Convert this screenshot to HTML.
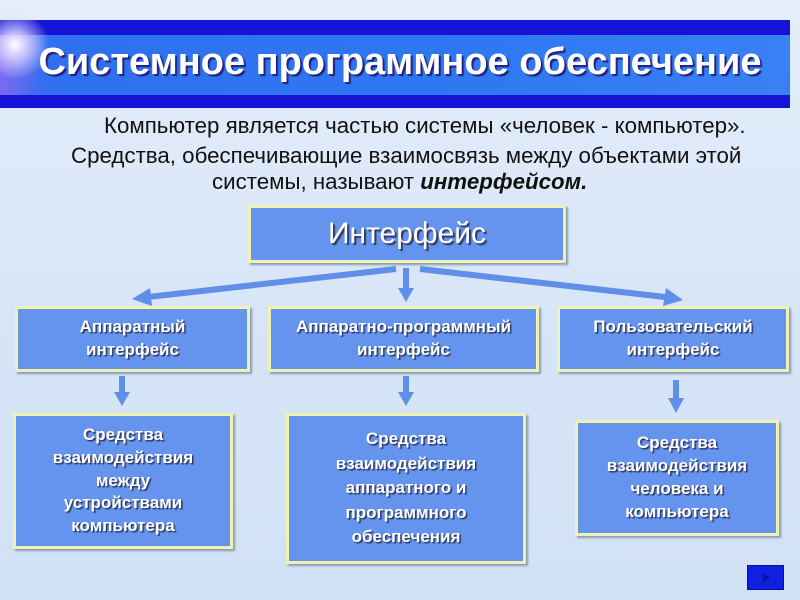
<!DOCTYPE html>
<html><head><meta charset="utf-8"><style>
body{margin:0;width:800px;height:600px;overflow:hidden;background:linear-gradient(180deg,#e4eefa,#d6e4f7 60%,#d2e2f6);font-family:"Liberation Sans",sans-serif;position:relative}
.band{position:absolute;left:0;top:20px;width:790px;height:88px;background:#1414d8}
.band2{position:absolute;left:0;top:35px;width:790px;height:60px;background:linear-gradient(90deg,#7a6af0 0,#2f6ff0 6%,#2f78f2 60%,#3a80f4)}
.glow{position:absolute;left:-20px;top:10px;width:70px;height:70px;border-radius:50%;background:radial-gradient(circle,#fff 0,rgba(230,220,255,.8) 25%,rgba(180,150,255,0) 70%)}
.title{position:absolute;left:0;width:800px;top:41px;text-align:center;font-size:38px;font-weight:bold;color:#fff;text-shadow:2px 2px 1px #202080}
.txt{position:absolute;font-size:22.3px;color:#111;white-space:nowrap}
.box{position:absolute;background:#6494ee;border:3px solid #f0f2b0;box-shadow:2px 2px 2px #8898b8;color:#fff;font-weight:bold;text-align:center;text-shadow:1.5px 1.5px 1px #303860;display:flex;align-items:center;justify-content:center;box-sizing:border-box;line-height:1.35}
.nav{position:absolute;left:747px;top:565px;width:37px;height:25px;background:#1020e0;border:1px solid #0810a0;box-sizing:border-box}
</style></head><body>
<div class="band"></div><div class="band2"></div><div class="glow"></div>
<div class="title">Системное программное обеспечение</div>
<div class="txt" style="left:104px;top:113px">Компьютер является частью системы «человек - компьютер».</div>
<div class="txt" style="left:71px;top:143px">Средства, обеспечивающие взаимосвязь между объектами этой</div>
<div class="txt" style="left:212px;top:169px">системы, называют <b><i>интерфейсом.</i></b></div>
<div class="box" style="left:248px;top:205px;width:318px;height:58px;font-size:30px;font-weight:normal;text-shadow:2px 2px 1px #303860">Интерфейс</div>
<svg style="position:absolute;left:0;top:0" width="800" height="600">
<g stroke="#5f8fe8" stroke-width="6" fill="#5f8fe8">
<line x1="396" y1="269" x2="148" y2="297"/><polygon points="132,299 150,288 152,306" stroke="none"/>
<line x1="406" y1="268" x2="406" y2="290"/><polygon points="398,288 414,288 406,302" stroke="none"/>
<line x1="420" y1="269" x2="665" y2="297"/><polygon points="683,300 663,306 666,288" stroke="none"/>
<line x1="122" y1="376" x2="122" y2="394"/><polygon points="114,392 130,392 122,406" stroke="none"/>
<line x1="406" y1="376" x2="406" y2="394"/><polygon points="398,392 414,392 406,406" stroke="none"/>
<line x1="676" y1="380" x2="676" y2="400"/><polygon points="668,398 684,398 676,413" stroke="none"/>
</g></svg>
<div class="box" style="left:15px;top:306px;width:235px;height:66px;font-size:17px">Аппаратный<br>интерфейс</div>
<div class="box" style="left:268px;top:306px;width:271px;height:66px;font-size:17px">Аппаратно-программный<br>интерфейс</div>
<div class="box" style="left:557px;top:306px;width:232px;height:66px;font-size:17px">Пользовательский<br>интерфейс</div>
<div class="box" style="left:13px;top:413px;width:220px;height:136px;font-size:17px">Средства<br>взаимодействия<br>между<br>устройствами<br>компьютера</div>
<div class="box" style="left:286px;top:413px;width:240px;height:151px;font-size:17px;line-height:1.45">Средства<br>взаимодействия<br>аппаратного и<br>программного<br>обеспечения</div>
<div class="box" style="left:575px;top:420px;width:204px;height:116px;font-size:17px">Средства<br>взаимодействия<br>человека и<br>компьютера</div>
<div class="nav"><svg width="35" height="23"><polygon points="15,7 22,11.5 15,16" fill="#1010a0"/></svg></div>
</body></html>
